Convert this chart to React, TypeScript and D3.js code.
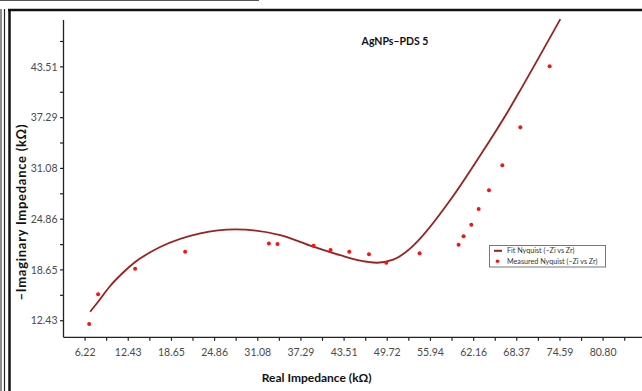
import React from "react";
import * as d3 from "d3";

const xMajorTicks = [6.22, 12.43, 18.65, 24.86, 31.08, 37.29, 43.51, 49.72, 55.94, 62.16, 68.37, 74.59, 80.8];
const xMajorLabels = ["6.22", "12.43", "18.65", "24.86", "31.08", "37.29", "43.51", "49.72", "55.94", "62.16", "68.37", "74.59", "80.80"];
const xMinorTicks = [9.32, 15.54, 21.75, 27.97, 34.19, 40.4, 46.62, 52.83, 59.05, 65.27, 71.48, 77.7, 83.91];
const yMajorTicks = [12.43, 18.65, 24.86, 31.08, 37.29, 43.51];
const yMajorLabels = ["12.43", "18.65", "24.86", "31.08", "37.29", "43.51"];
const yMinorTicks = [15.54, 21.75, 27.97, 34.19, 40.4, 46.62];

const measuredZr = [6.8, 8.09, 13.42, 20.62, 32.68, 33.92, 39.11, 41.56, 44.25, 47.09, 49.58, 54.38, 59.99, 60.71, 61.82, 62.88, 64.37, 66.29, 68.88, 73.1];
const measuredZi = [12.03, 15.66, 18.79, 20.87, 21.9, 21.82, 21.61, 21.08, 20.87, 20.56, 19.53, 20.68, 21.73, 22.76, 24.18, 26.1, 28.39, 31.48, 36.13, 43.6];

const fitZr = [6.94, 8.09, 9.82, 11.55, 13.42, 17.02, 22.79, 27.83, 34.31, 39.06, 42.95, 46.8, 48.24, 50.58, 53.04, 54.48, 58.8, 63.6, 67.2, 68.88, 74.64];
const fitZi = [13.53, 14.76, 16.68, 18.21, 19.61, 21.45, 23.13, 23.62, 22.92, 21.49, 20.45, 19.65, 19.53, 19.9, 21.29, 22.51, 27.2, 33.32, 38.21, 40.67, 49.36];

const chartTitle = "AgNPs–PDS 5";
const xTitle = "Real Impedance (kΩ)";
const yTitle = "–Imaginary Impedance (kΩ)";
const legendLabels = ["Fit Nyquist (–Zi vs Zr)", "Measured Nyquist (–Zi vs Zr)"];

const W = 642;
const H = 391;
const font = "Lato, 'Open Sans', sans-serif";

export default function App() {
  const x = d3.scaleLinear().domain([3.108, 86.4]).range([63.5, 642]);
  const y = d3.scaleLinear().domain([10.4, 49.25]).range([337.3, 20]);
  const x0 = 63.5;
  const yAxis = 337.3;

  const fitData: [number, number][] = fitZr.map((v, i) => [v, fitZi[i]]);
  const line = d3
    .line<[number, number]>()
    .x((d) => x(d[0]))
    .y((d) => y(d[1]))
    .curve(d3.curveMonotoneX);

  const lineColor = "#9b2020";
  const dotColor = "#ff1010";
  const tickColor = "#4a4a4a";

  return (
    <svg
      width={W}
      height={H}
      style={{ position: "absolute", left: 0, top: 0, background: "#fff" }}
    >
      <rect x={0} y={0} width={W} height={H} fill="#fff" />
      {/* frame lines */}
      <line x1={0} x2={259} y1={0.5} y2={0.5} stroke="#555" strokeWidth={1} />
      <line x1={8} x2={W} y1={10} y2={10} stroke="#111" strokeWidth={2.5} />
      <line x1={1} x2={1} y1={9} y2={H} stroke="#666" strokeWidth={1.5} />
      <line x1={4.5} x2={4.5} y1={9} y2={H} stroke="#222" strokeWidth={1.2} />
      <line x1={9.5} x2={9.5} y1={9} y2={H} stroke="#111" strokeWidth={2.5} />

      {/* axes */}
      <line x1={x0} x2={x0} y1={20} y2={yAxis} stroke="#222" strokeWidth={1.3} />
      <line x1={x0} x2={W} y1={yAxis} y2={yAxis} stroke="#222" strokeWidth={1.3} />

      {xMajorTicks.concat(xMinorTicks).map((t, i) => (
        <line key={"xt" + i} x1={x(t)} x2={x(t)} y1={yAxis} y2={yAxis + 3.5} stroke="#222" strokeWidth={1.2} />
      ))}
      {xMajorTicks.map((t, i) => (
        <text key={"xl" + i} x={x(t)} y={356} textAnchor="middle" fontFamily={font} fontSize={10.5} fill={tickColor}>
          {xMajorLabels[i]}
        </text>
      ))}
      {yMajorTicks.concat(yMinorTicks).map((t, i) => (
        <line key={"yt" + i} x1={x0 - 3.5} x2={x0} y1={y(t)} y2={y(t)} stroke="#222" strokeWidth={1.2} />
      ))}
      {yMajorTicks.map((t, i) => (
        <text key={"yl" + i} x={57.5} y={y(t)} dy="0.35em" textAnchor="end" fontFamily={font} fontSize={10.5} fill={tickColor}>
          {yMajorLabels[i]}
        </text>
      ))}

      {/* titles */}
      <text x={395} y={45} textAnchor="middle" fontFamily={font} fontWeight="bold" fontSize={10.5} fill="#111">
        {chartTitle}
      </text>
      <text x={316.7} y={382} textAnchor="middle" fontFamily={font} fontWeight="bold" fontSize={12} fill="#111">
        {xTitle}
      </text>
      <text
        transform={`translate(25.5, 212.5) rotate(-90)`}
        textAnchor="middle"
        fontFamily={font}
        fontWeight="bold"
        fontSize={13}
        textLength={176}
        lengthAdjust="spacing"
        fill="#111"
      >
        {yTitle}
      </text>

      {/* fit curve */}
      <path d={line(fitData) || ""} fill="none" stroke={lineColor} strokeWidth={1.8} />

      {/* measured points */}
      {measuredZr.map((v, i) => (
        <circle key={"p" + i} cx={x(v)} cy={y(measuredZi[i])} r={2} fill={dotColor} />
      ))}

      {/* legend */}
      <rect x={489.5} y={245.5} width={116} height={21.5} fill="#fff" stroke="#777" strokeWidth={1} />
      <line x1={494} x2={502} y1={250.8} y2={250.8} stroke={lineColor} strokeWidth={2} />
      <circle cx={497.5} cy={261.3} r={1.8} fill={dotColor} />
      <text x={507} y={250.8} dy="0.35em" fontFamily={font} fontSize={7.2} fill="#333">
        {legendLabels[0]}
      </text>
      <text x={507} y={261.3} dy="0.35em" fontFamily={font} fontSize={7.2} fill="#333">
        {legendLabels[1]}
      </text>
    </svg>
  );
}
